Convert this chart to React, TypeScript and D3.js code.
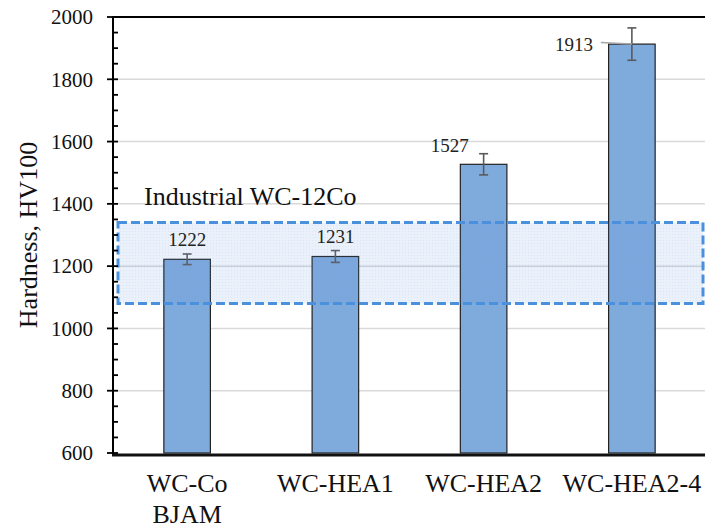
import React from "react";
import * as d3 from "d3";

// Hardness of the four WC-based materials (HV100) with their standard deviations
const categories = ["WC-Co|BJAM", "WC-HEA1", "WC-HEA2", "WC-HEA2-4"];
const hardness = [1222, 1231, 1527, 1913];
const hardnessError = [17, 19, 34, 52];
const yTicks = [600, 800, 1000, 1200, 1400, 1600, 1800, 2000];
// Reference hardness range of industrial WC-12Co
const industrialRange = [1080, 1340];
const industrialLabel = "Industrial WC-12Co";
const yTitle = "Hardness, HV100";

const W = 705;
const H = 529;
const left = 113;
const right = 706;
const top = 17;
const bottom = 453;

const FONT = "'Liberation Serif', 'Times New Roman', serif";

// per-label placement of the value labels (dx from bar centre, dy from bar top)
const labelOffsets = [
  { dx: 0, dy: -13, leader: false },
  { dx: 0, dy: -13, leader: false },
  { dx: -34, dy: -12.5, leader: false },
  { dx: -58, dy: 7, leader: true },
];

export default function App() {
  const y = d3.scaleLinear().domain([600, 2000]).range([bottom, top]);
  const x = d3
    .scaleBand<string>()
    .domain(categories)
    .range([left, right])
    .paddingInner(0.686)
    .paddingOuter(0.343);
  const bw = x.bandwidth();

  const minorTicks = d3.range(600, 2001, 50).filter((v) => v % 200 !== 0);

  const bandTop = y(industrialRange[1]);
  const bandBottom = y(industrialRange[0]);

  return (
    <svg
      width={W}
      height={H}
      style={{ position: "absolute", left: 0, top: 0, background: "#fff", fontFamily: FONT }}
    >
      <defs>
        <pattern id="dots" width="3" height="3" patternUnits="userSpaceOnUse">
          <rect width="3" height="3" fill="rgba(91,150,213,0.13)" />
          <rect width="1" height="1" fill="rgba(91,150,213,0.12)" />
        </pattern>
      </defs>

      {/* gridlines */}
      {yTicks.slice(1, -1).map((t) => (
        <line
          key={"g" + t}
          x1={left}
          x2={W}
          y1={y(t)}
          y2={y(t)}
          stroke="#d9d9d9"
          strokeWidth={1.5}
        />
      ))}

      {/* bars */}
      {categories.map((c, i) => (
        <rect
          key={c}
          x={x(c)}
          y={y(hardness[i])}
          width={bw}
          height={bottom - y(hardness[i])}
          fill="#7faadc"
          stroke="#222"
          strokeWidth={1.2}
        />
      ))}

      {/* error bars */}
      {categories.map((c, i) => {
        const cx = (x(c) as number) + bw / 2;
        const y1 = y(hardness[i] + hardnessError[i]);
        const y2 = y(hardness[i] - hardnessError[i]);
        return (
          <g key={"e" + c} stroke="#5a5a5a" strokeWidth={1.6}>
            <line x1={cx} x2={cx} y1={y1} y2={y2} />
            <line x1={cx - 4.5} x2={cx + 4.5} y1={y1} y2={y1} />
            <line x1={cx - 4.5} x2={cx + 4.5} y1={y2} y2={y2} />
          </g>
        );
      })}

      {/* industrial WC-12Co range */}
      <rect
        x={left + 5}
        y={bandTop}
        width={right - left - 8}
        height={bandBottom - bandTop}
        fill="url(#dots)"
        stroke="#4a90dc"
        strokeWidth={3}
        strokeDasharray="9 4"
      />
      <text x={144} y={205} fontSize={26} fill="#111" style={{ fontFamily: FONT }}>
        {industrialLabel}
      </text>

      {/* value labels */}
      {categories.map((c, i) => {
        const cx = (x(c) as number) + bw / 2;
        const o = labelOffsets[i];
        const ty = y(hardness[i]) + o.dy;
        return (
          <g key={"l" + c}>
            <text
              x={cx + o.dx}
              y={ty}
              fontSize={19}
              textAnchor="middle"
              fill="#222"
              style={{ fontFamily: FONT }}
            >
              {hardness[i]}
            </text>
            {o.leader && (
              <line
                x1={cx + o.dx + 27}
                y1={y(hardness[i]) - 1.5}
                x2={cx}
                y2={y(hardness[i])}
                stroke="#a6a6a6"
                strokeWidth={1.5}
              />
            )}
          </g>
        );
      })}

      {/* frame: top border, left axis, bottom axis */}
      <line x1={left} x2={W} y1={top} y2={top} stroke="#000" strokeWidth={2} />
      <line x1={left} x2={left} y1={top - 1} y2={bottom + 3} stroke="#000" strokeWidth={2} />
      <line x1={left - 1} x2={W} y1={bottom + 2} y2={bottom + 2} stroke="#111" strokeWidth={3} />

      {/* y ticks */}
      {yTicks.map((t) => (
        <g key={"t" + t}>
          <line x1={left - 6} x2={left + 5} y1={y(t)} y2={y(t)} stroke="#000" strokeWidth={1.8} />
          <text
            x={93}
            y={y(t)}
            dy="0.35em"
            fontSize={21}
            textAnchor="end"
            fill="#111"
            style={{ fontFamily: FONT }}
          >
            {t}
          </text>
        </g>
      ))}
      {minorTicks.map((t) => (
        <line
          key={"m" + t}
          x1={left}
          x2={left + 5}
          y1={y(t)}
          y2={y(t)}
          stroke="#000"
          strokeWidth={1.8}
        />
      ))}

      {/* category labels */}
      {categories.map((c) => {
        const cx = (x(c) as number) + bw / 2;
        const lines = c.split("|");
        return (
          <text
            key={"c" + c}
            fontSize={26}
            textAnchor="middle"
            fill="#111"
            style={{ fontFamily: FONT }}
          >
            {lines.map((ln, k) => (
              <tspan key={k} x={cx} y={492 + k * 31}>
                {ln}
              </tspan>
            ))}
          </text>
        );
      })}

      {/* y axis title */}
      <text
        transform="translate(36.5,235) rotate(-90)"
        fontSize={26}
        textAnchor="middle"
        fill="#111"
        style={{ fontFamily: FONT }}
      >
        {yTitle}
      </text>
    </svg>
  );
}
